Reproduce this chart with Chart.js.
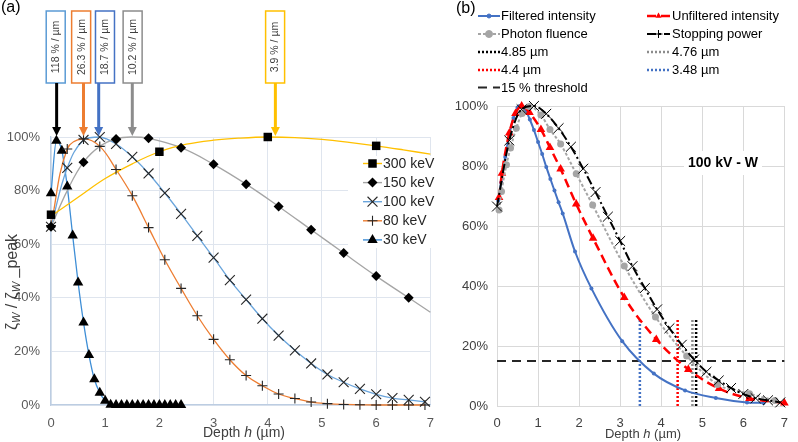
<!DOCTYPE html>
<html><head><meta charset="utf-8">
<script src="https://cdn.jsdelivr.net/npm/chart.js@4/dist/chart.umd.min.js"></script>
<style>
html,body{margin:0;padding:0;background:#fff;}
#wrap{position:relative;width:798px;height:442px;overflow:hidden;background:#fff}
#ca{position:absolute;left:0;top:0}
#cb{position:absolute;left:445px;top:0}
</style></head><body>
<div id="wrap"><canvas id="ca" width="445" height="442"></canvas><canvas id="cb" width="353" height="442"></canvas></div>
<script>
// ---------------- shared tick values ----------------
const depthTicks = [0,1,2,3,4,5,6,7];
const pctTicks = [0,20,40,60,80,100];

// ---------------- panel (a) data ----------------
const k300X = [0,2,4,6];
const k300Y = [71,94.5,100,96.7];
const k300LineX = [0,0.5,1,1.5,2,2.5,3,3.5,4,4.5,5,5.5,6,6.5,7];
const k300LineY = [70.5,77.5,84.5,90,94.5,97.3,98.8,99.6,100,99.8,99.1,98,96.7,95.2,93.6];

const k150X = [0,0.6,1.2,1.8,2.4,3,3.6,4.2,4.8,5.4,6,6.6];
const k150Y = [66.5,90.6,99.3,99.5,96,89.8,82.4,74.1,65.4,56.7,48.1,40];
const k150LineX = [0,0.3,0.6,0.9,1.2,1.5,1.8,2.4,3,3.6,4.2,4.8,5.4,6,6.6,7];
const k150LineY = [66.5,80,90.6,96.5,99.3,100,99.5,96,89.8,82.4,74.1,65.4,56.7,48.1,40,34.6];

const k100X = [0,0.3,0.6,0.9,1.2,1.5,1.8,2.1,2.4,2.7,3,3.3,3.6,3.9,4.2,4.5,4.8,5.1,5.4,5.7,6,6.3,6.6,6.9];
const k100Y = [66.5,88.5,98.9,100,97.4,92.6,86.4,79.1,71.3,63.1,55,46.6,39.3,32.2,25.9,20.4,15.5,11.4,8.5,6,4,2.6,1.9,1.2];

const k80X = [0,0.3,0.6,0.9,1.2,1.5,1.8,2.1,2.4,2.7,3,3.3,3.6,3.9,4.2,4.5,4.8,5.1,5.4,5.7,6,6.3,6.6,6.9];
const k80Y = [67,95.5,99.3,96.5,87.9,78.1,66.2,54.2,43.5,33.3,24.5,16.9,11,7.2,4.1,2.4,1.1,0.5,0.2,0.1,0,0,0,0];

const k30X = [0,0.1,0.2,0.3,0.4,0.5,0.6,0.7,0.8,0.9,1,1.1,1.2,1.3,1.4,1.5,1.6,1.7,1.8,1.9,2,2.1,2.2,2.3,2.4];
const k30Y = [79,98.6,94.9,81.5,63.2,45.7,30.8,18.7,9.6,4.6,1.6,0.1,0,0,0,0,0,0,0,0,0,0,0,0,0];

const annLabels = ['118 % / µm','26.3 % / µm','18.7 % / µm','10.2 % / µm','3.9 % / µm'];
const annArrowX = [0.104,0.6,0.88,1.5,4.14];
const annBoxX = [0.087,0.556,0.996,1.506,4.135];
const annTargetY = [100,100,100,100,100];

// ---------------- panel (b) data ----------------
const filtX = [0.03,0.1,0.2,0.3,0.4,0.5,0.55,0.6,0.7,0.8,0.9,1.0,1.1,1.2,1.3,1.4,1.5,1.6,1.9,2.3,3.05,3.82,4.58,5.33,6.09,6.49];
const filtY = [68.4,74.5,83,90.5,96,99.5,100,99.8,98.5,95.5,92,88,84,79.7,75.7,71.8,67.9,64.2,51.5,39.2,21.6,10.8,5.2,2.7,1.2,1.0];

const unfiltX = [0.05,0.12,0.3,0.45,0.6,0.79,1.07,1.29,1.55,1.93,2.34,3.1,3.88,4.66,5.41,6.15,7.0];
const unfiltY = [69.5,77.6,91,97.5,100,97.8,92.2,86.2,79,67.3,55.9,36.2,22.2,12.2,5.8,2.5,1.0];

const fluX = [0.05,0.11,0.23,0.33,0.47,0.61,0.79,1.07,1.29,1.55,1.93,2.33,3.1,3.86,4.62,5.37,6.15,6.77];
const fluY = [65.3,71.5,80.4,86,92.6,97.5,99.8,97,92.2,87.3,77.4,67,46.7,29.7,16.7,7.2,4.1,1.8];

const stopX = [0,0.3,0.6,0.9,1.2,1.5,1.8,2.1,2.4,2.7,3,3.3,3.6,3.9,4.2,4.5,4.8,5.1,5.4,5.7,6,6.3,6.6,6.9];
const stopY = [66.5,88.5,98.9,100,97.4,92.6,86.4,79.1,71.3,63.1,55,46.6,39.3,32.2,25.9,20.4,15.5,11.4,8.5,6,4,2.6,1.9,1.2];

const cutDepths = [4.85,4.76,4.4,3.48];
const cutLabels = ['4.85 µm','4.76 µm','4.4 µm','3.48 µm'];
const cutTop = [29,29,29,29];
const thresholdX = [0,7];
const thresholdY = [15,15];

// ---------------- helpers ----------------
const FONT = "'Liberation Sans', Arial, sans-serif";
const pts = (xs, ys) => xs.map((x, i) => ({x: x, y: ys[i]}));

function drawMarker(ctx, style, x, y, r, fill, stroke, lw) {
  ctx.save();
  ctx.beginPath();
  ctx.lineWidth = lw || 1;
  ctx.fillStyle = fill; ctx.strokeStyle = stroke;
  const s = Math.SQRT1_2 * r;
  if (style === 'rect') { ctx.rect(x - s, y - s, 2*s, 2*s); ctx.fill(); }
  else if (style === 'rectRot') { ctx.moveTo(x - r, y); ctx.lineTo(x, y - r); ctx.lineTo(x + r, y); ctx.lineTo(x, y + r); ctx.closePath(); ctx.fill(); }
  else if (style === 'triangle') {
    ctx.moveTo(x, y - r); ctx.lineTo(x + r*0.866, y + r*0.5); ctx.lineTo(x - r*0.866, y + r*0.5); ctx.closePath(); ctx.fill();
  }
  else if (style === 'circle') { ctx.arc(x, y, r, 0, Math.PI*2); ctx.fill(); ctx.stroke(); }
  else if (style === 'cross') { ctx.moveTo(x - r, y); ctx.lineTo(x + r, y); ctx.moveTo(x, y - r); ctx.lineTo(x, y + r); ctx.stroke(); }
  else if (style === 'crossRot') { ctx.moveTo(x - s, y - s); ctx.lineTo(x + s, y + s); ctx.moveTo(x + s, y - s); ctx.lineTo(x - s, y + s); ctx.stroke(); }
  ctx.restore();
}

function drawRich(ctx, parts, cx, cy, rot) {
  ctx.save();
  ctx.translate(cx, cy);
  if (rot) ctx.rotate(rot);
  ctx.textBaseline = 'middle';
  ctx.textAlign = 'left';
  let w = 0;
  parts.forEach(p => { ctx.font = p.f; p.w = ctx.measureText(p.t).width; w += p.w; });
  let x = -w / 2;
  parts.forEach(p => { ctx.font = p.f; ctx.fillStyle = p.c || '#404040'; ctx.fillText(p.t, x, p.dy || 0); x += p.w; });
  ctx.restore();
}

// ---------------- panel (a) ----------------
const seriesA = [
  {label:'300 keV', mx:k300X, my:k300Y, lx:k300LineX, ly:k300LineY, color:'#FFC000', marker:'rect', r:6},
  {label:'150 keV', mx:k150X, my:k150Y, lx:k150LineX, ly:k150LineY, color:'#A5A5A5', marker:'rectRot', r:5},
  {label:'100 keV', mx:k100X, my:k100Y, lx:k100X, ly:k100Y, color:'#6AA5DC', marker:'crossRot', r:7},
  {label:'80 keV', mx:k80X, my:k80Y, lx:k80X, ly:k80Y, color:'#ED7D31', marker:'cross', r:5},
  {label:'30 keV', mx:k30X, my:k30Y, lx:k30X, ly:k30Y, color:'#3E8ED6', marker:'triangle', r:6, mono:true}
];
const datasetsA = [];
seriesA.forEach(s => {
  datasetsA.push({
    label: s.label + ' line', data: pts(s.lx, s.ly), showLine: true, borderColor: s.color, borderWidth: 1.3,
    pointRadius: 0, tension: 0.4, cubicInterpolationMode: s.mono ? 'monotone' : 'default', order: 2, clip: false
  });
  const isLine = (s.marker === 'cross' || s.marker === 'crossRot');
  datasetsA.push({
    label: s.label, data: pts(s.mx, s.my), showLine: false, pointStyle: s.marker, pointRadius: s.r,
    pointBackgroundColor: '#000', pointBorderColor: isLine ? '#262626' : '#000', pointBorderWidth: isLine ? 1.1 : 0,
    order: 1, clip: false
  });
});

const annColors = ['#5B9BD5','#ED7D31','#4472C4','#8C8C8C','#FFC000'];
const arrowColors = ['#000000','#ED7D31','#4472C4','#8C8C8C','#FFC000'];

const pluginA = {
  id: 'pa',
  beforeDatasetsDraw(chart) {
    const c = chart.ctx;
    c.save(); c.fillStyle = '#fff'; c.fillRect(348, 156, 92, 92); c.restore();
  },
  afterDraw(chart) {
    const c = chart.ctx, xs = chart.scales.x, ys = chart.scales.y;
    // legend
    seriesA.forEach((s, i) => {
      const y = 163.5 + i * 19.1;
      c.save(); c.strokeStyle = s.color; c.lineWidth = 1.4;
      c.beginPath(); c.moveTo(363, y); c.lineTo(382, y); c.stroke(); c.restore();
      const isLine = (s.marker === 'cross' || s.marker === 'crossRot');
      drawMarker(c, s.marker, 372.5, y, s.r, '#000', isLine ? '#262626' : '#000', 1.1);
      c.save(); c.font = '14px ' + FONT; c.fillStyle = '#262626'; c.textBaseline = 'middle';
      c.fillText(s.label, 383, y + 0.5); c.restore();
    });
    // annotations
    annLabels.forEach((lab, i) => {
      const bx = xs.getPixelForValue(annBoxX[i]);
      const ax = xs.getPixelForValue(annArrowX[i]);
      const tip = ys.getPixelForValue(annTargetY[i]) - 1;
      c.save();
      c.fillStyle = '#fff'; c.strokeStyle = annColors[i]; c.lineWidth = 1.5;
      c.fillRect(bx - 9.5, 11, 19, 72); c.strokeRect(bx - 9.5, 11, 19, 72);
      c.translate(bx, 47); c.rotate(-Math.PI / 2);
      c.font = '10.5px ' + FONT; c.fillStyle = '#404040'; c.textAlign = 'center'; c.textBaseline = 'middle';
      c.fillText(lab, 0, 0.5);
      c.restore();
      c.save();
      c.strokeStyle = arrowColors[i]; c.fillStyle = arrowColors[i]; c.lineWidth = 3;
      c.beginPath(); c.moveTo(ax, 83); c.lineTo(ax, tip - 8); c.stroke();
      c.beginPath(); c.moveTo(ax - 4.5, tip - 9); c.lineTo(ax + 4.5, tip - 9); c.lineTo(ax, tip); c.closePath(); c.fill();
      c.restore();
    });
    // titles
    drawRich(c, [
      {t:'ζ', f:'16px ' + FONT}, {t:'W', f:'italic 11px ' + FONT, dy:4},
      {t:' / ζ', f:'16px ' + FONT}, {t:'W', f:'italic 11px ' + FONT, dy:4},
      {t:' _peak', f:'16px ' + FONT}
    ], 13, 282, -Math.PI / 2);
    drawRich(c, [
      {t:'Depth ', f:'14px ' + FONT}, {t:'h', f:'italic 14px ' + FONT}, {t:' (µm)', f:'14px ' + FONT}
    ], 244, 433, 0);
    c.save(); c.font = '16px ' + FONT; c.fillStyle = '#000'; c.textBaseline = 'middle';
    c.fillText('(a)', 1, 8); c.restore();
  }
};

new Chart(document.getElementById('ca'), {
  type: 'scatter',
  data: { datasets: datasetsA },
  options: {
    responsive: false, animation: false, devicePixelRatio: 1,
    layout: { padding: { left: 0, right: 10, top: 137, bottom: 0 } },
    plugins: { legend: { display: false }, tooltip: { enabled: false } },
    scales: {
      x: {
        type: 'linear', min: 0, max: 7,
        afterBuildTicks: s => { s.ticks = depthTicks.map(v => ({value: v})); },
        afterFit: s => { s.height = 37; },
        grid: { color: '#DFE5EE', drawTicks: false },
        border: { color: '#BCCDE2', width: 1.3 },
        ticks: { padding: 11, font: { size: 13, family: FONT }, color: '#595959' }
      },
      y: {
        type: 'linear', min: 0, max: 100,
        afterBuildTicks: s => { s.ticks = pctTicks.map(v => ({value: v})); },
        afterFit: s => { s.width = 51; },
        grid: { color: '#DFE5EE', drawTicks: false },
        border: { color: '#BCCDE2', width: 1.3 },
        ticks: { padding: 11, font: { size: 13, family: FONT }, color: '#595959', callback: v => v + '%' }
      }
    }
  },
  plugins: [pluginA]
});

// ---------------- panel (b) ----------------
const seriesB = [
  {label:'Filtered intensity', xs:filtX, ys:filtY, color:'#4472C4', dash:[], lw:2, marker:'circle', r:2, legMarker:'circle', col:0, row:0},
  {label:'Unfiltered intensity', xs:unfiltX, ys:unfiltY, color:'#FF0000', dash:[9,5], lw:2.5, marker:'triangle', r:5, legMarker:'triangle', col:1, row:0},
  {label:'Photon fluence', xs:fluX, ys:fluY, color:'#A5A5A5', dash:[3,2], lw:2, marker:'circle', r:3.5, legMarker:'circle', col:0, row:1},
  {label:'Stopping power', xs:stopX, ys:stopY, color:'#000000', dash:[9,3,2,3], lw:2, marker:'crossRot', r:7, legMarker:'cross', col:1, row:1}
];
const cutColors = ['#000000','#8C8C8C','#FF0000','#4472C4'];
const cutPos = [[0,2],[1,2],[0,3],[1,3]];

const datasetsB = [];
seriesB.slice().reverse().forEach(s => {
  datasetsB.push({
    label: s.label, data: pts(s.xs, s.ys), showLine: true, borderColor: s.color, borderWidth: s.lw,
    borderDash: s.dash, tension: 0.4, cubicInterpolationMode: 'monotone',
    pointStyle: s.marker, pointRadius: s.r, pointBackgroundColor: s.color, pointBorderColor: s.color,
    pointBorderWidth: s.marker === 'crossRot' ? 1 : 0, clip: false
  });
});
cutDepths.forEach((d, i) => {
  datasetsB.push({
    label: cutLabels[i], data: pts([d, d], [0, cutTop[i]]), showLine: true, borderColor: cutColors[i],
    borderWidth: 2.5, borderDash: [2, 2], pointRadius: 0, clip: false
  });
});
datasetsB.push({
  label: '15 % threshold', data: pts(thresholdX, thresholdY), showLine: true, borderColor: '#262626',
  borderWidth: 2, borderDash: [9, 6], pointRadius: 0, clip: false
});

const pluginB = {
  id: 'pb',
  afterDraw(chart) {
    const c = chart.ctx;
    const OX = 445;
    const colSample = [[478 - OX, 500 - OX], [647 - OX, 670 - OX]];
    const colText = [501 - OX, 672 - OX];
    const rowY = [16, 34, 52, 70, 87.5];
    function entry(col, row, label, color, dash, lw, marker, r) {
      const y = rowY[row], a = colSample[col][0], b = colSample[col][1];
      c.save(); c.strokeStyle = color; c.lineWidth = lw; c.setLineDash(dash);
      c.beginPath(); c.moveTo(a, y); c.lineTo(b, y); c.stroke(); c.restore();
      if (marker) drawMarker(c, marker, (a + b) / 2, y, r, color, color, 1);
      c.save(); c.font = '13px ' + FONT; c.fillStyle = '#000'; c.textBaseline = 'middle';
      c.fillText(label, colText[col], y + 0.5); c.restore();
    }
    seriesB.forEach(s => entry(s.col, s.row, s.label, s.color, s.dash, s.lw, s.legMarker, s.legMarker === 'cross' ? 4 : Math.min(s.r, 3.5)));
    cutLabels.forEach((l, i) => entry(cutPos[i][0], cutPos[i][1], l, cutColors[i], [2, 2], 2.5, null, 0));
    entry(0, 4, '15 % threshold', '#262626', [9, 6], 2, null, 0);
    // inner label
    c.save();
    c.font = 'bold 14px ' + FONT;
    const w = c.measureText('100 kV - W').width;
    const cx = 723 - OX, cy = 163;
    c.fillStyle = '#fff'; c.fillRect(cx - w / 2 - 4, cy - 12, w + 8, 24);
    c.fillStyle = '#000'; c.textAlign = 'center'; c.textBaseline = 'middle';
    c.fillText('100 kV - W', cx, cy + 0.5);
    c.restore();
    drawRich(c, [
      {t:'Depth ', f:'13px ' + FONT}, {t:'h', f:'italic 13px ' + FONT}, {t:' (µm)', f:'13px ' + FONT}
    ], 643 - OX, 434, 0);
    c.save(); c.font = '16px ' + FONT; c.fillStyle = '#000'; c.textBaseline = 'middle';
    c.fillText('(b)', 456 - OX, 9); c.restore();
  }
};

new Chart(document.getElementById('cb'), {
  type: 'scatter',
  data: { datasets: datasetsB },
  options: {
    responsive: false, animation: false, devicePixelRatio: 1,
    layout: { padding: { left: 0, right: 8, top: 106, bottom: 0 } },
    plugins: { legend: { display: false }, tooltip: { enabled: false } },
    scales: {
      x: {
        type: 'linear', min: 0, max: 7,
        afterBuildTicks: s => { s.ticks = depthTicks.map(v => ({value: v})); },
        afterFit: s => { s.height = 36; },
        grid: { color: '#D9D9D9', drawTicks: false },
        border: { color: '#D9D9D9', width: 1 },
        ticks: { padding: 10, font: { size: 13, family: FONT }, color: '#404040' }
      },
      y: {
        type: 'linear', min: 0, max: 100,
        afterBuildTicks: s => { s.ticks = pctTicks.map(v => ({value: v})); },
        afterFit: s => { s.width = 52; },
        grid: { color: '#D9D9D9', drawTicks: false },
        border: { display: false },
        ticks: { padding: 9, font: { size: 13, family: FONT }, color: '#404040', callback: v => v + '%' }
      }
    }
  },
  plugins: [pluginB]
});
</script>
</body></html>
